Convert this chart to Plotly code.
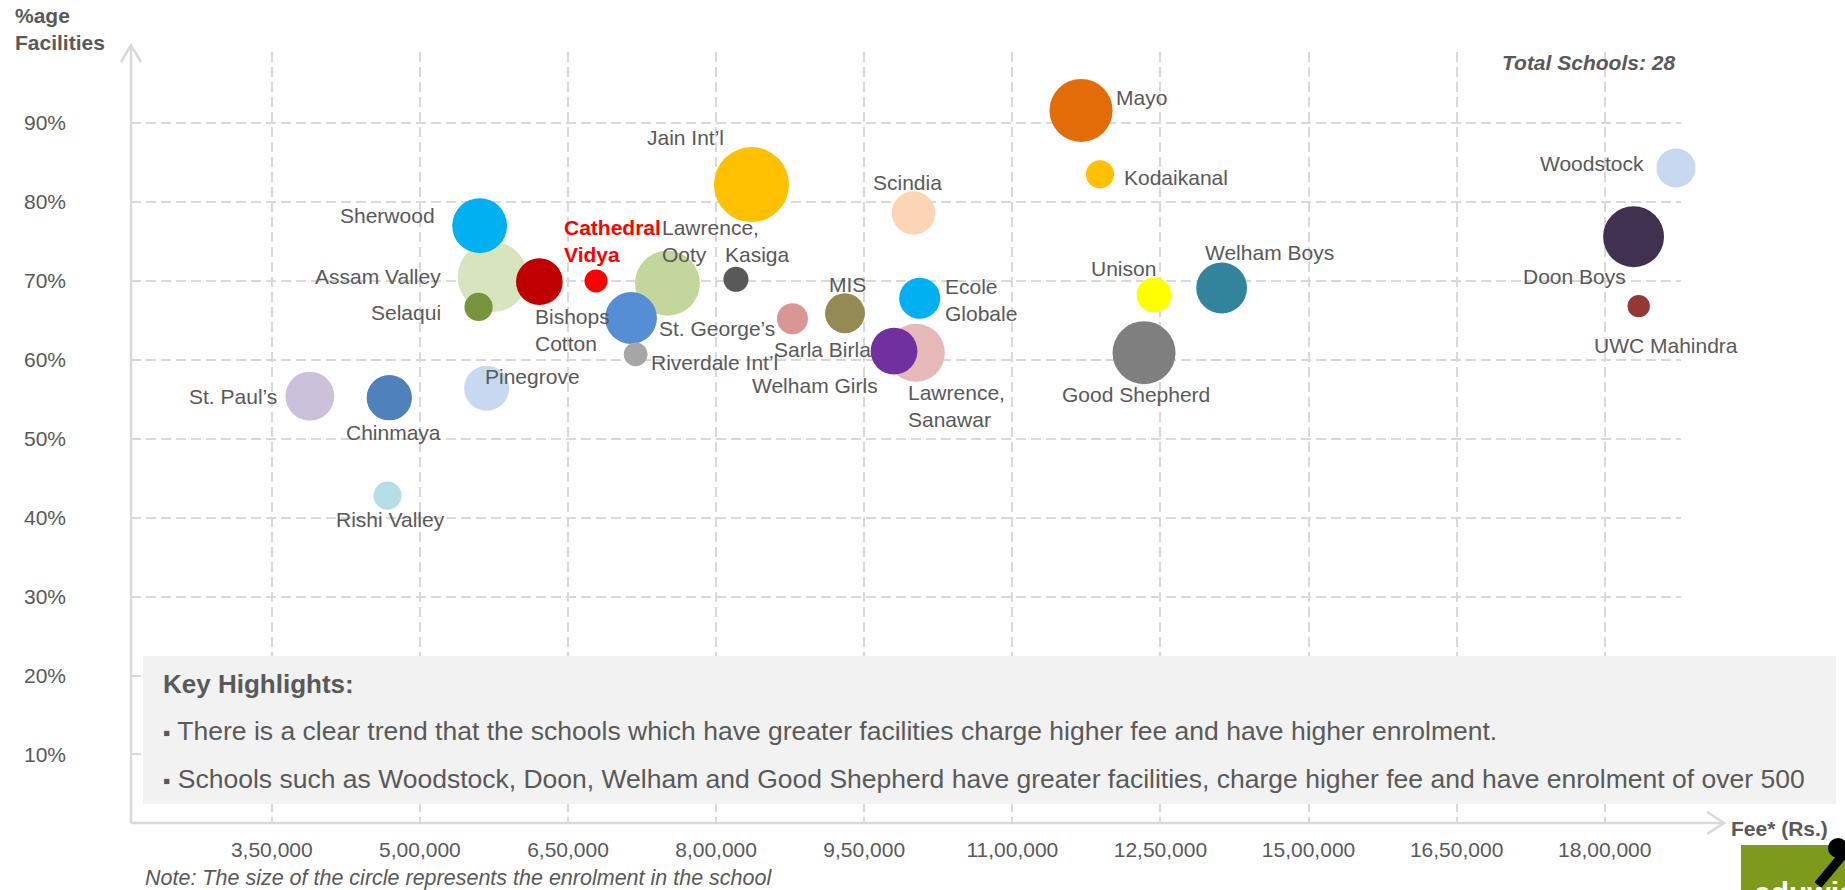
import plotly.graph_objects as go

# ---------------- data ----------------
schools = ["Jain Int’l", "Assam Valley", "Lawrence, Ooty", "Mayo", "Good Shepherd",
           "Doon Boys", "Lawrence, Sanawar", "Sherwood", "St. George’s", "Welham Boys",
           "St. Paul’s", "Bishops Cotton", "Welham Girls", "Chinmaya", "Pinegrove",
           "Scindia", "Ecole Globale", "MIS", "Woodstock", "Unison",
           "Sarla Birla", "Kodaikanal", "Selaqui", "Rishi Valley", "Kasiga",
           "Riverdale Int’l", "Cathedral Vidya", "UWC Mahindra"]
fees = [835800, 573700, 750700, 1169600, 1233400,
        1729200, 1002400, 560500, 713800, 1312000,
        388500, 621000, 980200, 469000, 567600,
        999900, 1006200, 930500, 1772200, 1243500,
        877300, 1188800, 559400, 467200, 820100,
        718500, 678400, 1734400]
facilities = [82.2, 70.5, 69.7, 91.6, 60.9,
              75.6, 60.9, 77.0, 65.3, 69.1,
              55.4, 69.9, 61.1, 55.2, 56.4,
              78.6, 67.8, 65.9, 84.3, 68.2,
              65.2, 83.5, 66.7, 42.8, 70.2,
              60.7, 70.0, 66.8]
enrolment = [850, 740, 635, 600, 600,
             560, 505, 455, 405, 390,
             360, 330, 330, 310, 305,
             285, 255, 240, 230, 185,
             145, 120, 120, 120, 95,
             85, 80, 75]
colors = ["#FFC000", "#D7E4BD", "#C3D69B", "#E36C09", "#7F7F7F",
          "#403151", "#E6B9B8", "#00B0F0", "#558ED5", "#31849B",
          "#CCC1DA", "#C00000", "#7030A0", "#4F81BD", "#C6D9F1",
          "#FCD5B5", "#00B0F0", "#948A54", "#C6D9F1", "#FFFF00",
          "#D99694", "#FFC000", "#77933C", "#B7DEE8", "#595959",
          "#A6A6A6", "#FF0000", "#953735"]

x_tick_values = [350000, 500000, 650000, 800000, 950000, 1100000, 1250000, 1400000, 1550000, 1700000]
x_tick_labels = ["3,50,000", "5,00,000", "6,50,000", "8,00,000", "9,50,000",
                 "11,00,000", "12,50,000", "15,00,000", "16,50,000", "18,00,000"]
y_tick_values = [10, 20, 30, 40, 50, 60, 70, 80, 90]
y_tick_labels = ["10%", "20%", "30%", "40%", "50%", "60%", "70%", "80%", "90%"]

highlights_title = "Key Highlights:"
highlights = ["There is a clear trend that the schools which have greater facilities charge higher fee and have higher enrolment.",
              "Schools such as Woodstock, Doon, Welham and Good Shepherd have greater facilities, charge higher fee and have enrolment of over 500"]
note_text = "Note: The size of the circle represents the enrolment in the school"
total_text = "Total Schools: 28"

# ---------------- styling ----------------
FONT = "Liberation Sans, Arial, Helvetica, sans-serif"
TXT = "#595959"
GRID = "#D9D9D9"
W, H = 1845, 890
L, R, T, B = 131, 1681, 52, 823          # plot area in pixels


def px(x):
    return (x - L) / (R - L)


def py(y):
    return (B - y) / (B - T)


# label placement: (xanchor, xshift, yshift)
label_style = {
    "Sherwood": ("right", -43, 10), "Assam Valley": ("right", -50, 0),
    "Selaqui": ("right", -36, -6), "Bishops Cotton": ("left", -6, -48),
    "Cathedral Vidya": ("left", -34, 40), "St. Paul’s": ("right", -31, 0),
    "Chinmaya": ("center", 4, -35), "Pinegrove": ("left", -4, 12),
    "Mayo": ("left", 33, 13), "Kodaikanal": ("left", 22, -3),
    "Jain Int’l": ("right", -25, 47), "Scindia": ("center", -6, 31),
    "Lawrence, Ooty": ("left", -7, 42), "Kasiga": ("left", -13, 25),
    "St. George’s": ("left", 26, -10), "Riverdale Int’l": ("left", 13, -8),
    "Sarla Birla": ("left", -20, -31), "MIS": ("center", 3, 29),
    "Ecole Globale": ("left", 23, -2), "Welham Girls": ("right", -14, -34),
    "Lawrence, Sanawar": ("left", -10, -53), "Unison": ("center", -31, 27),
    "Good Shepherd": ("center", -8, -42), "Welham Boys": ("center", 48, 36),
    "Woodstock": ("right", -30, 5), "Doon Boys": ("right", -6, -40),
    "UWC Mahindra": ("center", 27, -39), "Rishi Valley": ("center", 3, -24),
}
two_line = {"Bishops Cotton", "Cathedral Vidya", "Lawrence, Ooty", "Ecole Globale", "Lawrence, Sanawar"}

DMAX = 75
sizeref = 2.0 * max(enrolment) / (DMAX ** 2)

fig = go.Figure()
fig.add_trace(go.Scatter(
    x=fees, y=facilities, mode="markers",
    marker=dict(size=enrolment, sizemode="area", sizeref=sizeref,
                color=colors, opacity=1, line=dict(width=0)),
    text=schools, hovertemplate="%{text}<br>Fee: %{x:,}<br>Facilities: %{y}%<extra></extra>",
    cliponaxis=False, showlegend=False,
))

annotations = []
for name, fx, fy in zip(schools, fees, facilities):
    xa, dx, dy = label_style[name]
    label = name.replace(" ", "<br>", 1) if name in two_line else name
    special = name == "Cathedral Vidya"
    if special:
        label = "<b>" + label + "</b>"
    annotations.append(dict(
        x=fx, y=fy, xref="x", yref="y", text=label, showarrow=False,
        xanchor=xa, yanchor="middle", xshift=dx, yshift=dy, align="left",
        font=dict(family=FONT, size=21, color="#FF0000" if special else TXT),
    ))

# free text
annotations += [
    dict(x=px(13), y=py(29), xref="paper", yref="paper", text="<b>%age<br>Facilities</b>",
         showarrow=False, xanchor="left", yanchor="middle", align="left",
         font=dict(family=FONT, size=21, color=TXT)),
    dict(x=px(1588), y=py(63), xref="paper", yref="paper", text="<b><i>" + total_text + "</i></b>",
         showarrow=False, xanchor="center", yanchor="middle",
         font=dict(family=FONT, size=21, color=TXT)),
    dict(x=px(1729), y=py(828), xref="paper", yref="paper", text="<b>Fee* (Rs.)</b>",
         showarrow=False, xanchor="left", yanchor="middle",
         font=dict(family=FONT, size=21, color=TXT)),
    dict(x=px(161), y=py(684), xref="paper", yref="paper", text="<b>" + highlights_title + "</b>",
         showarrow=False, xanchor="left", yanchor="middle",
         font=dict(family=FONT, size=26, color=TXT)),
    dict(x=px(143), y=py(878), xref="paper", yref="paper", text="<i>" + note_text + "</i>",
         showarrow=False, xanchor="left", yanchor="middle",
         font=dict(family=FONT, size=21.5, color=TXT)),
]
for i, line in enumerate(highlights):
    annotations.append(dict(
        x=px(161), y=py(731 + 48 * i), xref="paper", yref="paper",
        text="<span style='font-size:21px'>▪</span> " + line,
        showarrow=False, xanchor="left", yanchor="middle",
        font=dict(family=FONT, size=26.5, color=TXT)))

# logo text (bottom right corner, cut by the page edge as in the reference)
annotations.append(dict(x=px(1752), y=py(893), xref="paper", yref="paper", text="<b>eduwise</b>",
                        showarrow=False, xanchor="left", yanchor="middle",
                        font=dict(family=FONT, size=30, color="white")))

shapes = [
    # key highlights box (covers the lower grid)
    dict(type="rect", xref="paper", yref="paper", x0=px(143), x1=px(1836), y0=py(804), y1=py(656),
         fillcolor="#F2F2F2", line=dict(width=0), layer="above"),
    # axes with open arrow heads
    dict(type="line", xref="paper", yref="paper", x0=px(131), x1=px(131), y0=py(823), y1=py(45),
         line=dict(color=GRID, width=2.5), layer="above"),
    dict(type="line", xref="paper", yref="paper", x0=px(131), x1=px(1724), y0=py(823), y1=py(823),
         line=dict(color=GRID, width=2.5), layer="above"),
    dict(type="path", xref="paper", yref="paper",
         path=f"M {px(121)} {py(62)} L {px(131)} {py(45)} L {px(141)} {py(62)}",
         line=dict(color=GRID, width=2.5), layer="above"),
    dict(type="path", xref="paper", yref="paper",
         path=f"M {px(1707)} {py(812)} L {px(1724)} {py(823)} L {px(1707)} {py(834)}",
         line=dict(color=GRID, width=2.5), layer="above"),
    # logo
    dict(type="rect", xref="paper", yref="paper", x0=px(1741), x1=px(1850), y0=py(895), y1=py(845),
         fillcolor="#7D9A1B", line=dict(width=0), layer="above"),
    dict(type="line", xref="paper", yref="paper", x0=px(1847), x1=px(1818), y0=py(850), y1=py(885),
         line=dict(color="black", width=9), layer="above"),
    dict(type="circle", xref="paper", yref="paper", x0=px(1828), x1=px(1848), y0=py(858), y1=py(838),
         fillcolor="black", line=dict(width=0), layer="above"),
]

fig.update_layout(
    width=W, height=H, margin=dict(l=L, r=W - R, t=T, b=H - B, pad=0),
    paper_bgcolor="white", plot_bgcolor="white",
    font=dict(family=FONT, color=TXT),
    xaxis=dict(range=[207400, 1777240], tickmode="array", tickvals=x_tick_values, ticktext=x_tick_labels,
               showgrid=True, gridcolor=GRID, griddash="10px,5px", gridwidth=1.5,
               zeroline=False, showline=False, ticks="", ticklabelstandoff=12,
               tickfont=dict(family=FONT, size=21, color=TXT)),
    yaxis=dict(range=[1.32, 99.0], tickmode="array", tickvals=y_tick_values, ticktext=y_tick_labels,
               showgrid=True, gridcolor=GRID, griddash="10px,5px", gridwidth=1.5,
               zeroline=False, showline=False, ticks="", ticklabelstandoff=64,
               tickfont=dict(family=FONT, size=21, color=TXT)),
    annotations=annotations, shapes=shapes,
)

fig.write_html("out.html", config={"displayModeBar": False},
               post_script="document.body.style.margin='0';document.body.style.overflow='hidden';")
